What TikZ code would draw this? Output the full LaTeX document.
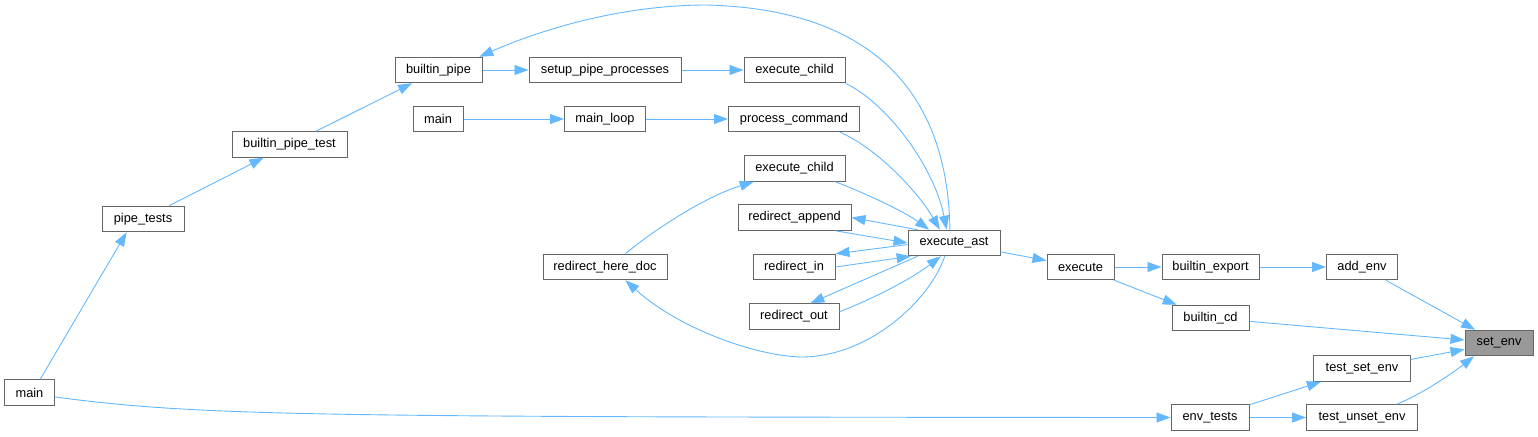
\documentclass[tikz,border=0pt]{standalone}
\usepackage{fontspec}
\setmainfont{Liberation Sans}
\usepackage{xcolor}
\usetikzlibrary{arrows.meta}
\definecolor{callblue}{HTML}{63B8FF}
\definecolor{boxgray}{HTML}{666666}
\definecolor{hlgray}{HTML}{999999}

\begin{document}
\begin{tikzpicture}[x=1pt,y=-1pt,
  fn/.style={draw=boxgray,line width=1pt,fill=white,minimum height=25.5pt,inner sep=0pt,font=\fontsize{12.8}{15}\selectfont},
  calls/.style={draw=callblue,line width=0.9pt,-{Triangle[length=14pt,width=10pt]}}]
\useasboundingbox (0,0) rectangle (1538,436);
\node[fn,fill=hlgray,minimum width=68pt] (setenv) at (1499,343) {set\_env};
\node[fn,minimum width=71pt] (addenv) at (1362,267) {add\_env};
\node[fn,minimum width=77pt] (builtincd) at (1210.5,318) {builtin\_cd};
\node[fn,minimum width=97pt] (testsetenv) at (1362,368.5) {test\_set\_env};
\node[fn,minimum width=111pt] (testunsetenv) at (1362,417.5) {test\_unset\_env};
\node[fn,minimum width=97pt] (builtinexport) at (1210.5,267) {builtin\_export};
\node[fn,minimum width=78pt] (envtests) at (1210,417.5) {env\_tests};
\node[fn,minimum width=67pt] (execute) at (1080.5,267) {execute};
\node[fn,minimum width=92pt] (executeast) at (954,243) {execute\_ast};
\node[fn,minimum width=101pt] (executechildA) at (794.5,70) {execute\_child};
\node[fn,minimum width=131pt] (processcommand) at (794,119) {process\_command};
\node[fn,minimum width=101pt] (executechildB) at (794.5,168.5) {execute\_child};
\node[fn,minimum width=113pt] (redirectappend) at (794.5,217.5) {redirect\_append};
\node[fn,minimum width=82pt] (redirectin) at (794,267) {redirect\_in};
\node[fn,minimum width=90pt] (redirectout) at (794,316.5) {redirect\_out};
\node[fn,minimum width=124pt] (redirectheredoc) at (605,267) {redirect\_here\_doc};
\node[fn,minimum width=152pt] (setuppipe) at (605,70) {setup\_pipe\_processes};
\node[fn,minimum width=81pt] (mainloop) at (605,119) {main\_loop};
\node[fn,minimum width=87pt] (builtinpipe) at (438.5,70) {builtin\_pipe};
\node[fn,minimum width=50pt] (maintop) at (438,119) {main};
\node[fn,minimum width=115pt] (builtinpipetest) at (289.5,144.5) {builtin\_pipe\_test};
\node[fn,minimum width=82pt] (pipetests) at (143,219) {pipe\_tests};
\node[fn,minimum width=50pt] (mainleft) at (29.5,392.5) {main};
\draw[calls] (addenv) -- (setenv);
\draw[calls] (builtincd) -- (setenv);
\draw[calls] (testsetenv) -- (setenv);
\draw[calls] (testunsetenv.21) .. controls (1420,395) and (1450,375) .. (setenv.-152);
\draw[calls] (builtinexport) -- (addenv);
\draw[calls] (execute) -- (builtinexport);
\draw[calls] (execute) -- (builtincd);
\draw[calls] (executeast) -- (execute);
\draw[calls] (envtests) -- (testsetenv);
\draw[calls] (envtests) -- (testunsetenv);
\draw[calls] (mainleft.-10) .. controls (200,416) and (300,417) .. (envtests.west);
\draw[calls] (mainleft.51) -- (pipetests.-141);
\draw[calls] (pipetests) -- (builtinpipetest);
\draw[calls] (builtinpipetest) -- (builtinpipe);
\draw[calls] (builtinpipe) -- (setuppipe);
\draw[calls] (setuppipe) -- (executechildA);
\draw[calls] (executechildA.south east) .. controls (890,105) and (935,170) .. (executeast.119);
\draw[calls] (executeast.107) .. controls (948,110) and (890,10) .. (707,5) .. controls (620,5) and (540,30) .. (builtinpipe.18);
\draw[calls] (maintop) -- (mainloop);
\draw[calls] (mainloop) -- (processcommand);
\draw[calls] (processcommand.-16) .. controls (880,150) and (920,195) .. (executeast.137);
\draw[calls] (executechildB.-18) .. controls (865,193) and (905,212) .. (executeast.152);
\draw[calls] (redirectheredoc.33) .. controls (660,225) and (710,195) .. (executechildB.-162);
\draw[calls] (executeast.160) -- (redirectappend.east);
\draw[calls] (redirectappend.-18) -- (executeast.west);
\draw[calls] (executeast.182) -- (redirectin.north east);
\draw[calls] (redirectin.east) -- (executeast.-163);
\draw[calls] (executeast.-160) -- (redirectout.39);
\draw[calls] (redirectout.6) .. controls (870,300) and (910,280) .. (executeast.-135);
\draw[calls] (executeast.-125) .. controls (930,300) and (870,356) .. (803,357) .. controls (760,357) and (680,330) .. (redirectheredoc.-33);
\end{tikzpicture}
\end{document}
